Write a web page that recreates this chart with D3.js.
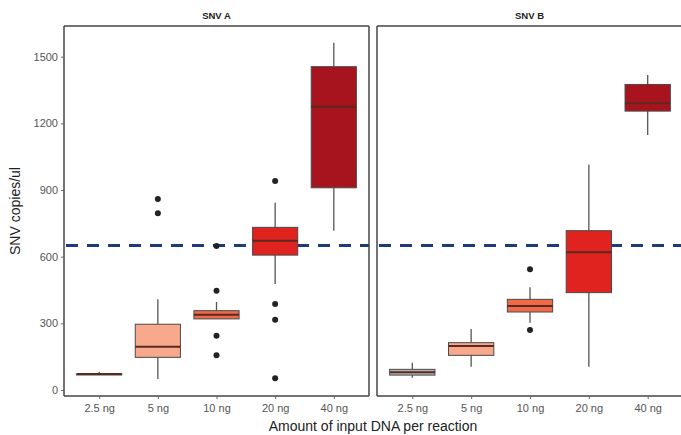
<html>
<head>
<script src="https://d3js.org/d3.v7.min.js"></script>
<style>
  body { margin: 0; background: #fff; }
  text { font-family: "Liberation Sans", Arial, sans-serif; }
</style>
</head>
<body>
<div id="chart"></div>
<script>
// categories and panels
var doses = ["2.5 ng", "5 ng", "10 ng", "20 ng", "40 ng"];
var panels = ["SNV A", "SNV B"];
var yTicks = [0, 300, 600, 900, 1200, 1500];
var threshold = 650;
var doseColors = ["#b3b3b3", "#f8a98b", "#f06a4a", "#e0231f", "#a8141d"];

// box stats per dose: [lowWhisker, q1, median, q3, highWhisker]
var statsA = [
  [70, 72, 72, 72, 82],
  [50, 147, 195, 296, 408],
  [320, 320, 339, 357, 396],
  [477, 607, 672, 732, 843],
  [717, 910, 1275, 1455, 1563]
];
var outliersA = [
  [],
  [795, 860],
  [447, 648, 244, 156],
  [940, 387, 316, 53],
  []
];
var statsB = [
  [55, 67, 80, 93, 123],
  [105, 156, 198, 213, 275],
  [303, 351, 378, 408, 462],
  [105, 438, 620, 717, 1015],
  [1147, 1255, 1290, 1375, 1417]
];
var outliersB = [
  [],
  [],
  [543, 270],
  [],
  []
];

var W = 681, H = 435;
var plotTop = 26, plotBottom = 396;
var panelX = [[64, 369], [377, 683]];

var svg = d3.select("#chart").append("svg")
    .attr("width", W).attr("height", H);

var y = d3.scaleLinear().domain([-27, 1638]).range([plotBottom, plotTop]);

var allStats = [statsA, statsB];
var allOut = [outliersA, outliersB];

panels.forEach(function(name, p) {
    var x0 = panelX[p][0], x1 = panelX[p][1];
    // ggplot discrete expansion: 0.6 units each side
    var x = d3.scalePoint().domain(doses).range([x0, x1]).padding(0.6);
    var step = x.step();
    var bw = step * 0.77;

    var g = svg.append("g");

    // panel title
    g.append("text")
        .attr("x", (x0 + Math.min(x1, 682)) / 2)
        .attr("y", 19)
        .attr("text-anchor", "middle")
        .attr("font-size", 9.5)
        .attr("font-weight", "bold")
        .attr("fill", "#222")
        .text(name);

    // threshold dashed line
    g.append("line")
        .attr("x1", x0 + 2).attr("x2", x1)
        .attr("y1", y(threshold)).attr("y2", y(threshold))
        .attr("stroke", "#1f3a78")
        .attr("stroke-width", 3)
        .attr("stroke-dasharray", "12,9");

    var st = allStats[p];
    doses.forEach(function(d, i) {
        var s = st[i];
        var c = x(d);
        // whiskers
        g.append("line")
            .attr("x1", c).attr("x2", c)
            .attr("y1", y(s[0])).attr("y2", y(s[1]))
            .attr("stroke", "#555").attr("stroke-width", 1.3);
        g.append("line")
            .attr("x1", c).attr("x2", c)
            .attr("y1", y(s[3])).attr("y2", y(s[4]))
            .attr("stroke", "#555").attr("stroke-width", 1.3);
        // box
        g.append("rect")
            .attr("x", c - bw / 2)
            .attr("width", bw)
            .attr("y", y(s[3]))
            .attr("height", Math.max(1, y(s[1]) - y(s[3])))
            .attr("fill", doseColors[i])
            .attr("stroke", "#4a4a4a")
            .attr("stroke-width", 1);
        // median
        g.append("line")
            .attr("x1", c - bw / 2).attr("x2", c + bw / 2)
            .attr("y1", y(s[2])).attr("y2", y(s[2]))
            .attr("stroke", "#5a2a22").attr("stroke-width", 2);
        // outliers
        allOut[p][i].forEach(function(v) {
            g.append("circle")
                .attr("cx", c).attr("cy", y(v))
                .attr("r", 3)
                .attr("fill", "#222");
        });
    });

    // panel border
    var border = [[x0, plotTop, x1, plotTop], [x0, plotTop, x0, plotBottom],
                  [x1, plotTop, x1, plotBottom], [x0, plotBottom, x1, plotBottom]];
    border.forEach(function(b) {
        g.append("line")
            .attr("x1", b[0]).attr("y1", b[1]).attr("x2", b[2]).attr("y2", b[3])
            .attr("stroke", "#444").attr("stroke-width", 1.5);
    });

    // x axis ticks and labels
    var xAxis = d3.axisBottom(x).tickSize(3).tickPadding(5);
    var xa = g.append("g").attr("transform", "translate(0," + plotBottom + ")").call(xAxis);
    xa.select(".domain").remove();
    xa.selectAll("line").attr("stroke", "#666");
    xa.selectAll("text").attr("font-size", 11).attr("fill", "#555")
        .style("font-family", "Liberation Sans, Arial, sans-serif");
});

// y axis on the left panel
var yAxis = d3.axisLeft(y).tickValues(yTicks).tickFormat(d3.format("d")).tickSize(3).tickPadding(3);
var ya = svg.append("g").attr("transform", "translate(64,0)").call(yAxis);
ya.select(".domain").remove();
ya.selectAll("line").attr("stroke", "#666");
ya.selectAll("text").attr("font-size", 11).attr("fill", "#555")
    .style("font-family", "Liberation Sans, Arial, sans-serif");

// axis titles
svg.append("text")
    .attr("transform", "translate(20," + ((plotTop + plotBottom) / 2) + ") rotate(-90)")
    .attr("text-anchor", "middle")
    .attr("font-size", 14)
    .attr("fill", "#222")
    .text("SNV copies/ul");

svg.append("text")
    .attr("x", 373).attr("y", 431)
    .attr("text-anchor", "middle")
    .attr("font-size", 14)
    .attr("fill", "#222")
    .text("Amount of input DNA per reaction");
</script>
</body>
</html>
